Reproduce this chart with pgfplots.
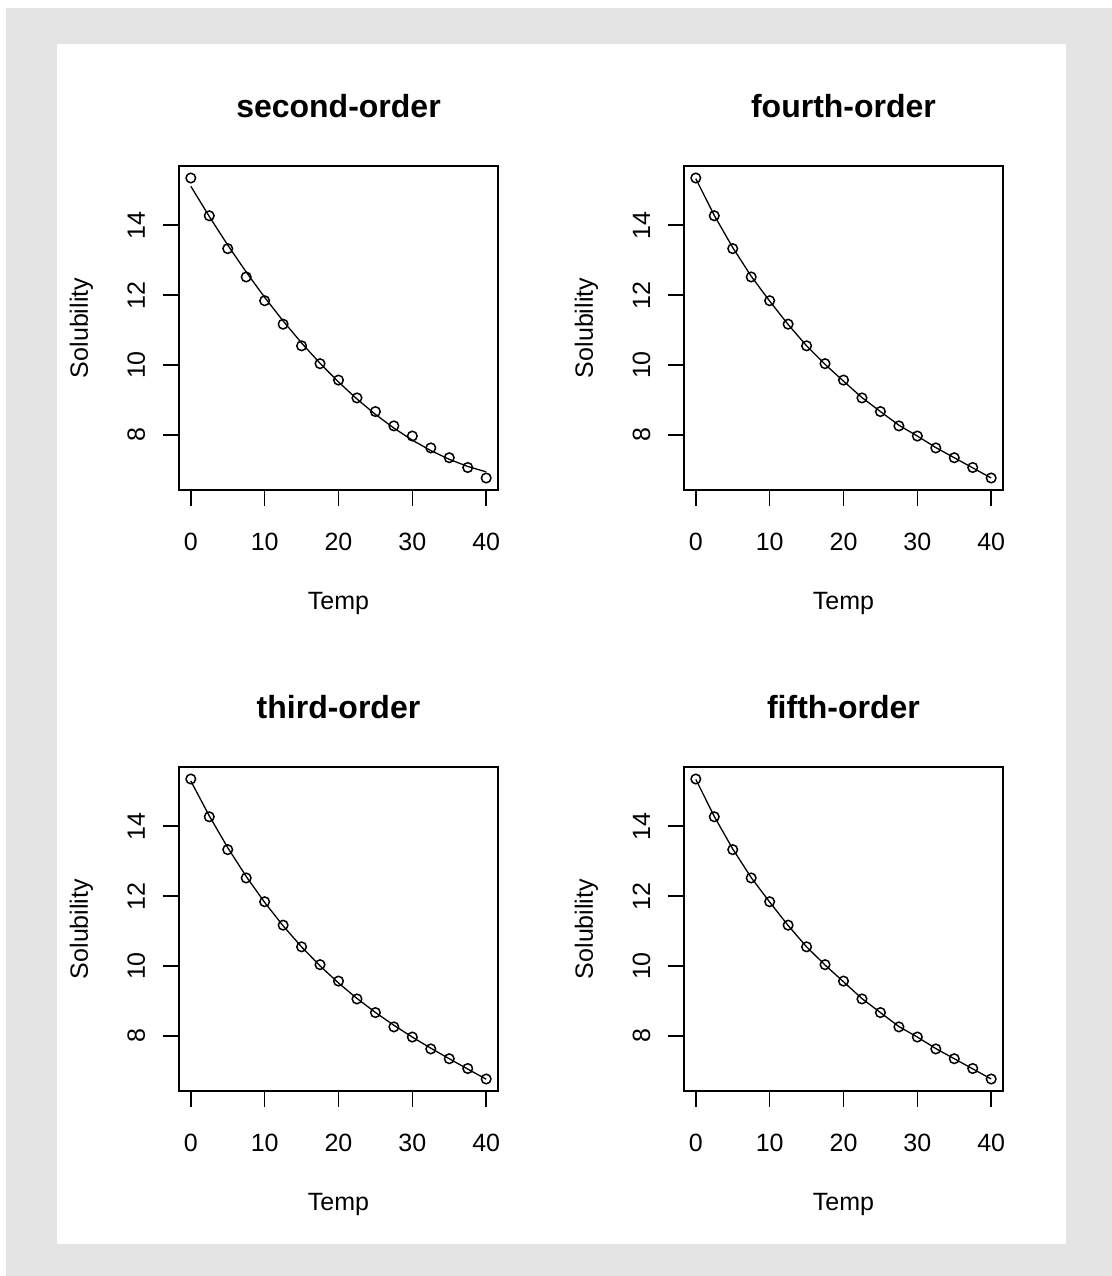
\documentclass[border=0pt]{standalone}
\usepackage{fontspec}
\setmainfont{Liberation Sans}
\usepackage{pgfplots}
\pgfplotsset{compat=1.18}
\usepackage{pgfplotstable}
\definecolor{bg}{RGB}{228,228,228}

\pgfplotstableread{
T S
0 15.35
2.5 14.27
5 13.33
7.5 12.52
10 11.84
12.5 11.17
15 10.55
17.5 10.04
20 9.57
22.5 9.06
25 8.67
27.5 8.26
30 7.97
32.5 7.63
35 7.35
37.5 7.07
40 6.77
}\obs

\pgfplotstableread{
T F
0 15.114
2.5 14.249
5 13.431
7.5 12.660
10 11.937
12.5 11.261
15 10.632
17.5 10.050
20 9.516
22.5 9.029
25 8.589
27.5 8.197
30 7.852
32.5 7.554
35 7.304
37.5 7.100
40 6.945
}\fittwo

\pgfplotstableread{
T F
0 15.295
2.5 14.294
5 13.386
7.5 12.563
10 11.821
12.5 11.151
15 10.548
17.5 10.005
20 9.516
22.5 9.074
25 8.673
27.5 8.307
30 7.968
32.5 7.651
35 7.349
37.5 7.055
40 6.764
}\fitthree

\pgfplotstableread{
T F
0 15.33
2.5 14.28
5 13.36
7.5 12.54
10 11.83
12.5 11.16
15 10.55
17.5 10.02
20 9.54
22.5 9.07
25 8.67
27.5 8.28
30 7.97
32.5 7.64
35 7.35
37.5 7.06
40 6.77
}\fitfour

\pgfplotstableread{
T F
0 15.34
2.5 14.28
5 13.35
7.5 12.53
10 11.83
12.5 11.16
15 10.55
17.5 10.03
20 9.55
22.5 9.07
25 8.67
27.5 8.27
30 7.97
32.5 7.64
35 7.35
37.5 7.06
40 6.77
}\fitfive

\pgfplotsset{
  rpanel/.style={
    anchor=south west, scale only axis,
    width=159.5pt, height=162pt,
    xmin=-1.6, xmax=41.6, ymin=6.4268, ymax=15.6932,
    xtick={0,10,20,30,40}, ytick={8,10,12,14},
    xtick pos=left, ytick pos=left,
    tick align=outside, major tick length=8pt,
    tick style={line width=0.8pt, black},
    axis line style={line width=0.8pt},
    tick label style={font=\fontsize{12.5}{14}\selectfont},
    /pgf/number format/assume math mode=true,
    xticklabel style={anchor=base},
    xticklabel shift=22.3pt,
    yticklabel style={rotate=90, anchor=base},
    yticklabel shift=9pt,
    xlabel={Temp}, ylabel={Solubility},
    label style={font=\fontsize{12.5}{14}\selectfont},
    xlabel style={at={(axis description cs:0.5,-0.370)}, anchor=base},
    ylabel style={at={(axis description cs:-0.2853,0.5)}, anchor=base, rotate=0},
    title style={at={(axis description cs:0.5,1.112)}, anchor=base, font=\bfseries\fontsize{16}{19}\selectfont},
  },
  obsplot/.style={only marks, mark=o, mark size=2.4pt, mark options={line width=0.75pt, black}},
  fitplot/.style={no marks, line width=0.65pt, black},
}

\begin{document}
\begin{tikzpicture}
\useasboundingbox (0,0) rectangle (556pt,638pt);
\fill[white] (0,0) rectangle (556pt,638pt);
\fill[bg] (3pt,0) rectangle (556pt,634pt);
\fill[white] (28.5pt,16pt) rectangle (533pt,616pt);

\begin{axis}[rpanel, at={(89.5pt,393pt)}, title={second-order}]
\addplot[obsplot] table[x=T,y=S]{\obs};
\addplot[fitplot] table[x=T,y=F]{\fittwo};
\end{axis}

\begin{axis}[rpanel, at={(342pt,393pt)}, title={fourth-order}]
\addplot[obsplot] table[x=T,y=S]{\obs};
\addplot[fitplot] table[x=T,y=F]{\fitfour};
\end{axis}

\begin{axis}[rpanel, at={(89.5pt,92.5pt)}, title={third-order}]
\addplot[obsplot] table[x=T,y=S]{\obs};
\addplot[fitplot] table[x=T,y=F]{\fitthree};
\end{axis}

\begin{axis}[rpanel, at={(342pt,92.5pt)}, title={fifth-order}]
\addplot[obsplot] table[x=T,y=S]{\obs};
\addplot[fitplot] table[x=T,y=F]{\fitfive};
\end{axis}
\end{tikzpicture}
\end{document}
